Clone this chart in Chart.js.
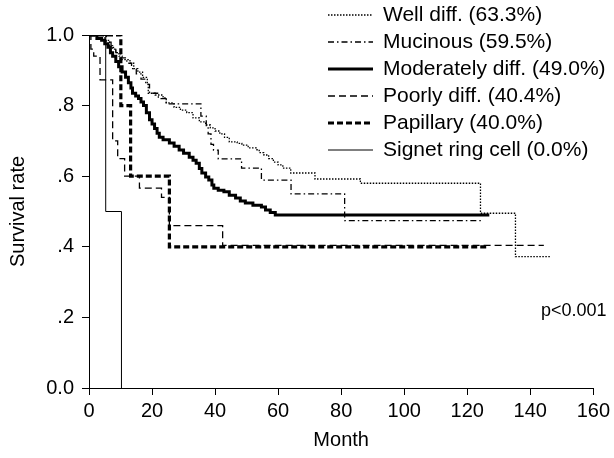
<!DOCTYPE html>
<html>
<head>
<meta charset="utf-8">
<script src="https://cdn.jsdelivr.net/npm/chart.js@4"></script>
<style>
	html, body { margin: 0; padding: 0; background: #fff; }
</style>
</head>
<body>
<canvas id="chartSurvival" width="614" height="458"></canvas>
<script>
// Kaplan-Meier curves by histologic type
var seriesNames = ['Well diff. (63.3%)', 'Mucinous (59.5%)', 'Moderately diff. (49.0%)', 'Poorly diff. (40.4%)', 'Papillary (40.0%)', 'Signet ring cell (0.0%)'];

var wellMonths = [0, 5, 6.5, 7.5, 8.5, 9.5, 10.5, 13, 14.2, 15.5, 17, 18.5, 18.8, 21, 23.5, 24.5, 27, 29, 31, 33, 35, 37, 38.5, 40, 41.5, 43, 44.5, 47, 48.5, 50.5, 53, 54, 55.5, 57, 58.5, 60, 61.5, 64, 71.7, 86.1, 124.2, 135.3, 146.5];
var wellSurv = [1.0, 0.985, 0.97, 0.96, 0.95, 0.94, 0.93, 0.92, 0.905, 0.895, 0.88, 0.86, 0.835, 0.83, 0.822, 0.808, 0.795, 0.787, 0.78, 0.765, 0.754, 0.745, 0.737, 0.728, 0.72, 0.71, 0.697, 0.693, 0.688, 0.68, 0.675, 0.667, 0.66, 0.65, 0.64, 0.632, 0.623, 0.609, 0.592, 0.58, 0.495, 0.372, 0.372];

var mucMonths = [0, 5.5, 7, 8.5, 10, 12, 13.5, 15, 16.5, 18, 19.2, 22, 24.5, 35.5, 37.2, 37.8, 38.7, 39.5, 41, 48.4, 54.7, 64.1, 81.1, 125.1];
var mucSurv = [1.0, 0.98, 0.965, 0.95, 0.935, 0.92, 0.905, 0.89, 0.875, 0.86, 0.835, 0.82, 0.805, 0.77, 0.74, 0.72, 0.69, 0.674, 0.649, 0.623, 0.589, 0.55, 0.474, 0.474];

var modMonths = [0, 2.5, 4, 5, 6, 6.8, 7.5, 8.5, 9.4, 10.5, 11.6, 12.5, 13.3, 13.8, 14.8, 15.7, 16.5, 17.3, 18.2, 19.2, 20, 20.8, 21.6, 22.3, 23.5, 25.5, 27, 28.6, 30, 31.8, 33, 34, 35, 35.8, 37, 38, 39, 39.6, 41, 42.8, 44.5, 46.5, 48, 49.6, 52, 54.7, 56, 57.5, 59.1, 127];
var modSurv = [1.0, 0.99, 0.985, 0.975, 0.965, 0.95, 0.94, 0.925, 0.91, 0.895, 0.88, 0.865, 0.85, 0.835, 0.827, 0.82, 0.81, 0.8, 0.78, 0.76, 0.748, 0.735, 0.722, 0.71, 0.703, 0.694, 0.685, 0.674, 0.665, 0.654, 0.645, 0.637, 0.622, 0.609, 0.598, 0.589, 0.575, 0.566, 0.56, 0.556, 0.546, 0.538, 0.53, 0.524, 0.518, 0.513, 0.504, 0.497, 0.49, 0.49];

var poorMonths = [0, 0.6, 1.5, 3.5, 7.5, 9.1, 11.3, 16, 23, 25.5, 42.4, 144.3];
var poorSurv = [1.0, 0.96, 0.94, 0.873, 0.70, 0.65, 0.60, 0.566, 0.54, 0.46, 0.404, 0.404];

var papMonths = [0, 10.1, 13.2, 25.5, 126.6];
var papSurv = [1.0, 0.8, 0.6, 0.4, 0.4];

var signetMonths = [0, 5.3, 10.3];
var signetSurv = [1.0, 0.5, 0.0];

var fontFamily = 'Arial, "Liberation Sans", sans-serif';

function toPoints(months, surv) {
	var pts = [];
	for (var i = 0; i < months.length; i++) {
		pts.push({ x: months[i], y: surv[i] });
	}
	return pts;
}

function kmSet(idx, months, surv, width, dash) {
	return {
		label: seriesNames[idx],
		data: toPoints(months, surv),
		stepped: 'before',
		borderColor: '#000',
		borderWidth: width,
		borderDash: dash,
		pointRadius: 0,
		fill: false
	};
}

// legend in the upper right and the p value, drawn on the canvas
var sideLegend = {
	id: 'sideLegend',
	afterDraw: function(chart) {
		var ctx = chart.ctx;
		ctx.save();
		ctx.strokeStyle = '#000';
		ctx.fillStyle = '#000';
		ctx.textBaseline = 'middle';
		chart.data.datasets.forEach(function(ds, i) {
			var y = 15 + i * 27;
			ctx.beginPath();
			ctx.setLineDash(ds.borderDash || []);
			ctx.lineWidth = ds.borderWidth;
			ctx.moveTo(328, y);
			ctx.lineTo(373, y);
			ctx.stroke();
			ctx.setLineDash([]);
			ctx.font = '21px ' + fontFamily;
			ctx.fillText(ds.label, 383, y);
		});
		ctx.font = '18px ' + fontFamily;
		ctx.fillText('p<0.001', 541, 311);
		ctx.restore();
	}
};

var ctxSurvival = document.getElementById('chartSurvival').getContext('2d');
var chartSurvival = new Chart(ctxSurvival, {
	type: 'line',
	data: {
		datasets: [
			kmSet(0, wellMonths, wellSurv, 1.3, [1.5, 1.5]),
			kmSet(1, mucMonths, mucSurv, 1.3, [6, 3, 1.5, 3]),
			kmSet(2, modMonths, modSurv, 3, []),
			kmSet(3, poorMonths, poorSurv, 1.3, [7, 4]),
			kmSet(4, papMonths, papSurv, 3.2, [6, 3]),
			kmSet(5, signetMonths, signetSurv, 1, [])
		]
	},
	options: {
		responsive: false,
		animation: false,
		layout: { padding: { top: 35, right: 16, bottom: 0, left: 0 } },
		plugins: {
			legend: { display: false },
			tooltip: { enabled: false }
		},
		scales: {
			x: {
				type: 'linear',
				min: 0,
				max: 160,
				ticks: { stepSize: 20, color: '#000', padding: 4, maxRotation: 0, font: { size: 20, family: fontFamily } },
				grid: { display: true, drawOnChartArea: false, drawTicks: true, tickLength: 7, color: '#000' },
				border: { display: true, color: '#000', width: 1 },
				title: { display: true, text: 'Month', color: '#000', font: { size: 20, family: fontFamily }, padding: { top: 4, bottom: 6 } },
				afterFit: function(scale) { scale.height = 70; }
			},
			y: {
				min: 0,
				max: 1,
				ticks: {
					stepSize: 0.2,
					color: '#000',
					padding: 8,
					font: { size: 20, family: fontFamily },
					callback: function(v) {
						if (v === 0) return '0.0';
						if (v === 1) return '1.0';
						return v.toFixed(1).replace(/^0/, '');
					}
				},
				grid: { display: true, drawOnChartArea: false, drawTicks: true, tickLength: 7, color: '#000' },
				border: { display: true, color: '#000', width: 1 },
				title: { display: true, text: 'Survival rate', color: '#000', font: { size: 20, family: fontFamily }, padding: { top: 6, bottom: 4 } },
				afterFit: function(scale) { scale.width = 89; }
			}
		}
	},
	plugins: [sideLegend]
});
</script>
</body>
</html>
